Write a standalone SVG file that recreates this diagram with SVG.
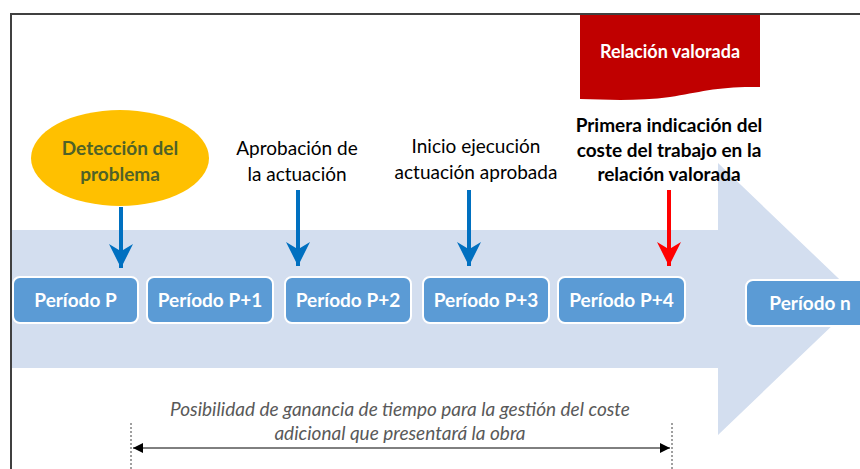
<svg xmlns="http://www.w3.org/2000/svg" width="860" height="469" viewBox="0 0 860 469">
<style>
.box{fill:#5B9BD5;stroke:#fff;stroke-width:2}
.bt{font-family:Lato,"Liberation Sans",sans-serif;font-weight:bold;font-size:19px;fill:#fff;text-anchor:middle}
.lbl{font-family:Lato,"Liberation Sans",sans-serif;font-size:19px;fill:#000;text-anchor:middle}
.blbl{font-family:Lato,"Liberation Sans",sans-serif;font-size:19px;font-weight:bold;fill:#000;text-anchor:middle}
.note{font-family:Lato,"Liberation Sans",sans-serif;font-size:19px;font-style:italic;fill:#595959;text-anchor:middle}
.ab{stroke:#0070C0;stroke-width:4;fill:none}
.ar{stroke:#FF0000;stroke-width:4;fill:none}
</style>
<defs>
<marker id="hb" viewBox="0 0 10 10" refX="10" refY="5" markerWidth="6" markerHeight="6" markerUnits="strokeWidth" orient="auto"><path d="M0,0 L10,5 L0,10 L3,5 Z" fill="#0070C0"/></marker>
<marker id="hr" viewBox="0 0 10 10" refX="10" refY="5" markerWidth="6" markerHeight="6" markerUnits="strokeWidth" orient="auto"><path d="M0,0 L10,5 L0,10 L3,5 Z" fill="#FF0000"/></marker>
<marker id="hk" viewBox="0 0 10 10" refX="10" refY="5" markerWidth="10" markerHeight="10" orient="auto-start-reverse"><path d="M0,0 L10,5 L0,10 Z" fill="#000"/></marker>
</defs>
<rect width="860" height="469" fill="#fff"/>
<path d="M11,469 L11,14 L860,14" fill="none" stroke="#404040" stroke-width="2"/>
<path id="bigarrow" d="M12,230 L718,230 L718,163 L860,299 L718,435 L718,368 L12,368 Z" fill="#D3DEEF"/>
<g id="relacion">
<path d="M580,15 L760,15 L760,87 C720,86 700,92 670,97 C640,101 610,100 580,99 Z" fill="#C00000"/>
<text x="670" y="58" class="bt" style="font-size:18px">Relación valorada</text>
</g>
<g id="deteccion">
<ellipse cx="120" cy="158" rx="89" ry="48" fill="#FFC000"/>
<text x="120" y="155" class="blbl" style="fill:#4F6228">Detección del</text>
<text x="120" y="181" class="blbl" style="fill:#4F6228">problema</text>
</g>
<g id="aprobacion">
<text x="297" y="155" class="lbl">Aprobación de</text>
<text x="297" y="181" class="lbl">la actuación</text>
</g>
<g id="inicio">
<text x="476" y="153" class="lbl">Inicio ejecución</text>
<text x="476" y="179" class="lbl">actuación aprobada</text>
</g>
<g id="primera">
<text x="669" y="132" class="blbl">Primera indicación del</text>
<text x="669" y="157" class="blbl">coste del trabajo en la</text>
<text x="669" y="181" class="blbl">relación valorada</text>
</g>
<g id="connectors">
<line x1="121" y1="207" x2="121" y2="268" class="ab" marker-end="url(#hb)"/>
<line x1="298" y1="190" x2="298" y2="266" class="ab" marker-end="url(#hb)"/>
<line x1="469" y1="190" x2="469" y2="266" class="ab" marker-end="url(#hb)"/>
<line x1="669" y1="190" x2="669" y2="266" class="ar" marker-end="url(#hr)"/>
<line x1="131" y1="423" x2="131" y2="469" stroke="#404040" stroke-width="1" stroke-dasharray="2,2"/>
<line x1="672" y1="423" x2="672" y2="469" stroke="#404040" stroke-width="1" stroke-dasharray="2,2"/>
<line x1="133" y1="448" x2="670" y2="448" stroke="#000" stroke-width="1" marker-start="url(#hk)" marker-end="url(#hk)"/>
</g>
<g id="p0"><rect x="13" y="277" width="125" height="46" rx="7" class="box"/><text x="75.5" y="307" class="bt">Período P</text></g>
<g id="p1"><rect x="147" y="277" width="126" height="46" rx="7" class="box"/><text x="210" y="307" class="bt">Período P+1</text></g>
<g id="p2"><rect x="285" y="277" width="126" height="46" rx="7" class="box"/><text x="348" y="307" class="bt">Período P+2</text></g>
<g id="p3"><rect x="423" y="277" width="126" height="46" rx="7" class="box"/><text x="486" y="307" class="bt">Período P+3</text></g>
<g id="p4"><rect x="558" y="277" width="127" height="46" rx="7" class="box"/><text x="621.5" y="307" class="bt">Período P+4</text></g>
<g id="pn"><rect x="746" y="280" width="130" height="46" rx="7" class="box"/><text x="810" y="310" class="bt">Período n</text></g>
<g id="nota">
<text x="400" y="416" class="note">Posibilidad de ganancia de tiempo para la gestión del coste</text>
<text x="400" y="440" class="note">adicional que presentará la obra</text>
</g>
</svg>
